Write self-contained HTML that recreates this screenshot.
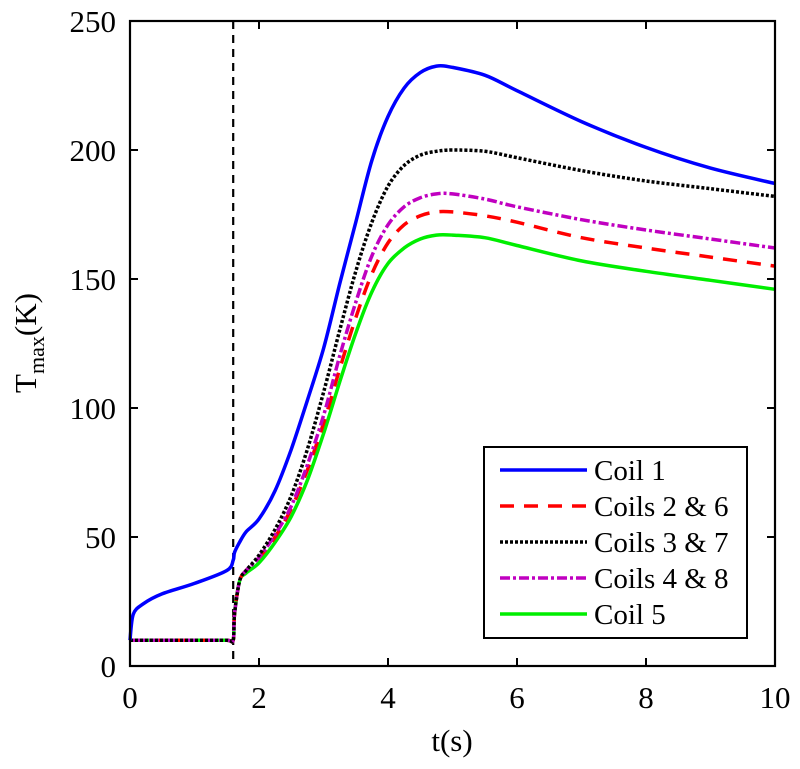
<!DOCTYPE html>
<html><head><meta charset="utf-8"><style>
body{margin:0;background:#fff;}
svg{display:block;font-family:"Liberation Serif",serif;}
</style></head><body>
<svg id="chart" width="800" height="769">
<g id="plot"></g>
<g id="axes"></g>
<text x="452" y="751" font-size="31" text-anchor="middle">t(s)</text>
<text transform="translate(36,343) rotate(-90)" font-size="31" text-anchor="middle">T<tspan font-size="22" dy="8">max</tspan><tspan dy="-8">(K)</tspan></text>
<g id="legend"></g>
</svg>
<script>
const times=[0,0.05,0.2,0.5,1,1.5,1.6,1.62,1.7,1.8,2,2.25,2.5,2.75,3,3.25,3.5,3.75,4,4.25,4.5,4.75,5,5.5,6,7,8,9,10];
const coil1=[10,20,24,28,32,37,41,44,48,52,57,68,84,103,123,148,172,196,213,224,230,232.5,232,229,223,211,201,193,187];
const coil26=[10,10,10,10,10,10,10,20,33,37,42,50,61,76,94,115,135,152,164,171,174.5,176,176,174.5,172,166,162,158.5,155];
const coil37=[10,10,10,10,10,10,10,20,33,37,43,53,66,84,106,130,153,172,186,194,198,199.5,200,199.5,197,192,188,185,182];
const coil48=[10,10,10,10,10,10,10,20,33,37,42,51,62,78,97,120,141,159,171,178,181.5,183,183,181,178,173,169,165.5,162];
const coil5=[10,10,10,10,10,10,10,20,33,36,40,48,58,72,90,110,129,145,156,162,165.5,167,167,166,163,157,153,149.5,146];
const xTicks=[0,2,4,6,8,10];
const yTicks=[0,50,100,150,200,250];
const switchTime=1.6;
const seriesNames=["Coil 1","Coils 2 & 6","Coils 3 & 7","Coils 4 & 8","Coil 5"];

const X0=130,X1=775,Y0=666,Y1=21;
const sx=t=>X0+(t-0)/(10-0)*(X1-X0);
const sy=v=>Y0-(v-0)/(250-0)*(Y0-Y1);
const NS="http://www.w3.org/2000/svg";
const plot=document.getElementById('plot'),axes=document.getElementById('axes'),legend=document.getElementById('legend');
function mk(tag,attrs,parent){const e=document.createElementNS(NS,tag);for(const k in attrs)e.setAttribute(k,attrs[k]);parent.appendChild(e);return e;}
function smooth(P){
 let d='M'+P[0][0].toFixed(1)+','+P[0][1].toFixed(1);
 for(let i=0;i<P.length-1;i++){
  const p0=P[i-1]||P[i],p1=P[i],p2=P[i+1],p3=P[i+2]||P[i+1];
  const k=0.16;
  const c1=[p1[0]+(p2[0]-p0[0])*k,p1[1]+(p2[1]-p0[1])*k];
  const c2=[p2[0]-(p3[0]-p1[0])*k,p2[1]-(p3[1]-p1[1])*k];
  d+=' C'+c1.map(v=>v.toFixed(1)).join(',')+' '+c2.map(v=>v.toFixed(1)).join(',')+' '+p2[0].toFixed(1)+','+p2[1].toFixed(1);
 }
 return d;
}

const vline=mk('line',{x1:sx(switchTime),x2:sx(switchTime),y1:Y1,y2:Y0,stroke:'#000','stroke-width':2.2,'stroke-dasharray':'8 6'},plot);



const styles=[
 {c:'#0000ff',d:'none'},
 {c:'#ff0000',d:'14 10'},
 {c:'#000000',d:'3 2'},
 {c:'#c000c0',d:'10 3 3 3'},
 {c:'#00ee00',d:'none'}];
const seriesData=[coil1,coil26,coil37,coil48,coil5];
const slugs=['coil-1-line','coils-2-6-line','coils-3-7-line','coils-4-8-line','coil-5-line'];
[4,1,3,2,0].forEach(i=>{
 const P=times.map((t,j)=>[sx(t),sy(seriesData[i][j])]);
 const p=mk('path',{d:smooth(P),fill:'none',stroke:styles[i].c,'stroke-width':3.5,'stroke-dasharray':styles[i].d,'stroke-linejoin':'round'},plot);
 
 
});

const box=mk('rect',{x:X0,y:Y1,width:X1-X0,height:Y0-Y1,fill:'none',stroke:'#000','stroke-width':2.2},axes);


xTicks.forEach(t=>{
 mk('line',{x1:sx(t),x2:sx(t),y1:Y0,y2:Y0-8,stroke:'#000','stroke-width':2},axes);
 mk('line',{x1:sx(t),x2:sx(t),y1:Y1,y2:Y1+8,stroke:'#000','stroke-width':2},axes);
 const l=mk('text',{x:sx(t),y:Y0+42,'font-size':31,'text-anchor':'middle'},axes);
 l.textContent=t;
 
 
});
yTicks.forEach(v=>{
 mk('line',{x1:X0,x2:X0+8,y1:sy(v),y2:sy(v),stroke:'#000','stroke-width':2},axes);
 mk('line',{x1:X1,x2:X1-8,y1:sy(v),y2:sy(v),stroke:'#000','stroke-width':2},axes);
 const l=mk('text',{x:X0-14,y:sy(v)+11,'font-size':31,'text-anchor':'end'},axes);
 l.textContent=v;
 
 
});

const lb=mk('rect',{x:484,y:447,width:263,height:191,fill:'#fff',stroke:'#000','stroke-width':2},legend);


seriesNames.forEach((n,i)=>{
 const y=470+i*36;
 const g=mk('g',{},legend);
 
 
 mk('line',{x1:500,x2:587,y1:y,y2:y,stroke:styles[i].c,'stroke-width':3.5,'stroke-dasharray':styles[i].d},g);
 const t=mk('text',{x:594,y:y+10,'font-size':29},g);
 t.textContent=n;
});
</script>
</body></html>
